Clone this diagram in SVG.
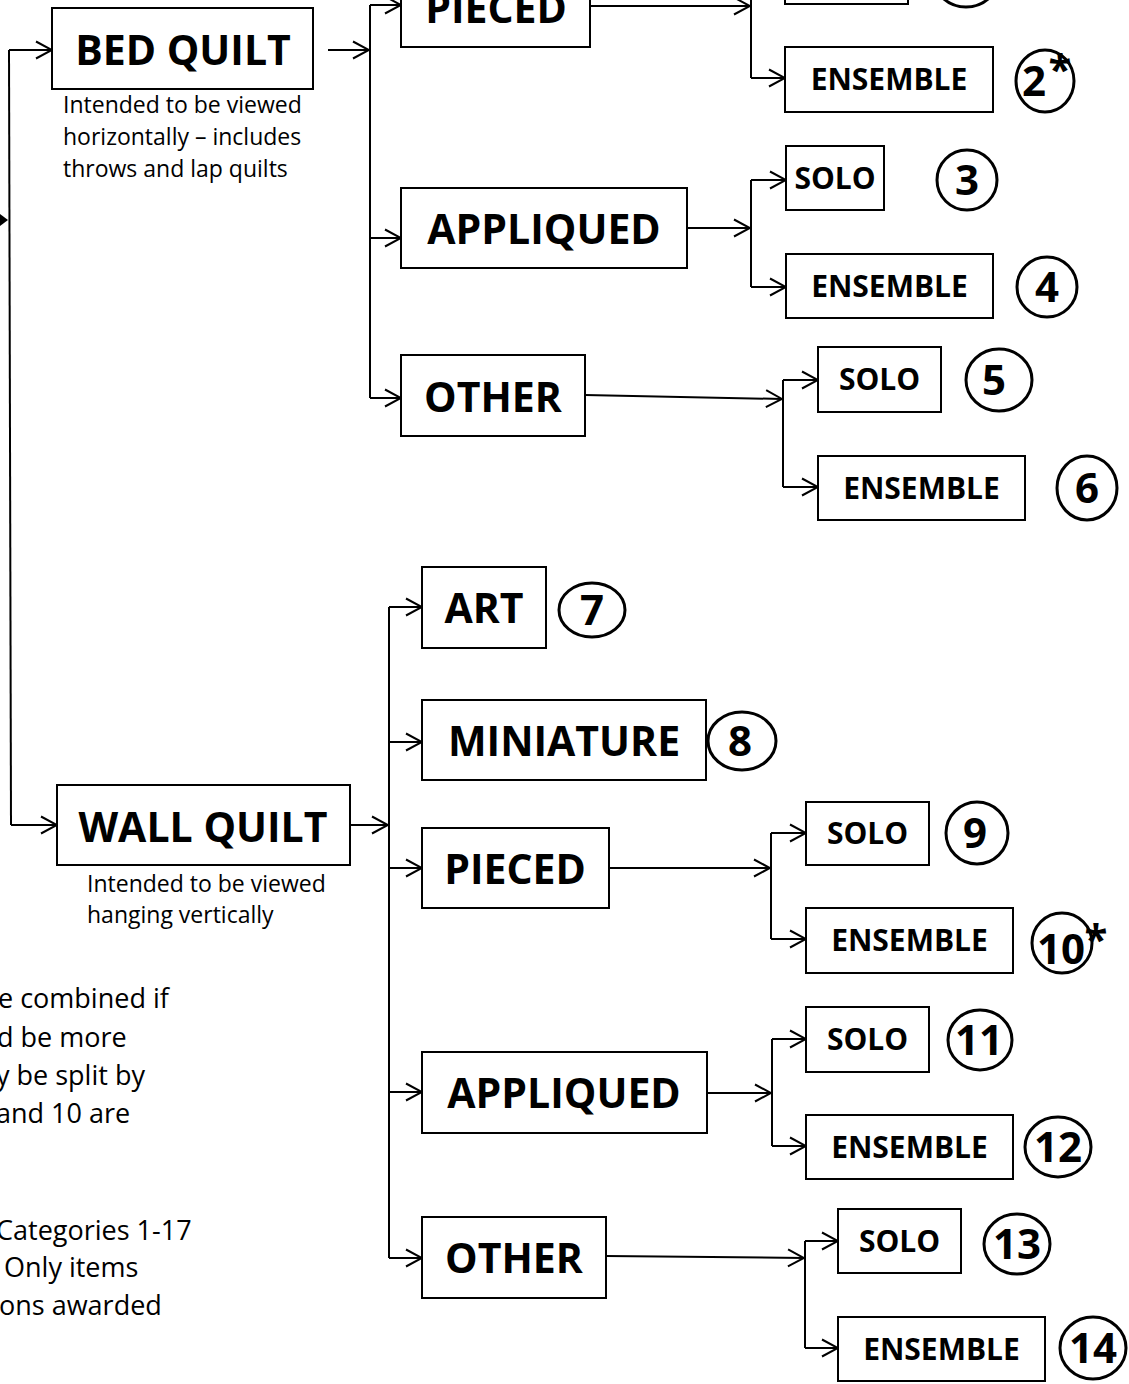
<svg xmlns="http://www.w3.org/2000/svg" width="1129" height="1384" viewBox="0 0 1129 1384">
<defs>
<marker id="ah" markerUnits="userSpaceOnUse" viewBox="0 0 18 20" refX="17" refY="10" markerWidth="18" markerHeight="20" orient="auto">
<path d="M1,1.5 L17,10 L1,18.5" fill="none" stroke="#000" stroke-width="2"/>
</marker>
</defs>
<style>
.box{fill:#fff;stroke:#000;stroke-width:2}
.circ{fill:none;stroke:#000;stroke-width:3}
.big{font-family:"Open Sans","Liberation Sans",sans-serif;font-weight:bold;font-size:41px;text-anchor:middle;fill:#000}
.small{font-family:"Open Sans","Liberation Sans",sans-serif;font-weight:bold;font-size:30px;text-anchor:middle;fill:#000}
.num{font-family:"Open Sans","Liberation Sans",sans-serif;font-weight:bold;font-size:42px;text-anchor:middle;fill:#000}
.note{font-family:"Open Sans","Liberation Sans",sans-serif;font-size:23px;fill:#000}
.side{font-family:"Open Sans","Liberation Sans",sans-serif;font-size:27px;fill:#000}
.ln{fill:none;stroke:#000;stroke-width:2}
.arr{fill:none;stroke:#000;stroke-width:2;marker-end:url(#ah)}
</style>
<rect width="1129" height="1384" fill="#fff"/>

<g id="connectors">
<polygon points="0,214 8,220 0,226" fill="#000"/>
<path class="ln" d="M9,50 L11,825"/>
<path class="arr" d="M9,50 L52,50"/>
<path class="arr" d="M11,825 L57,825"/>
<path class="arr" d="M328,50 L369,50"/>
<path class="ln" d="M370,5 L370,398"/>
<path class="arr" d="M370,5 L401,5"/>
<path class="arr" d="M370,238 L401,238"/>
<path class="arr" d="M370,398 L401,398"/>
<path class="arr" d="M590,6 L750,6"/>
<path class="ln" d="M751,-28 L751,78"/>
<path class="arr" d="M751,-28 L785,-28"/>
<path class="arr" d="M751,78 L785,78"/>
<path class="arr" d="M687,228 L750,228"/>
<path class="ln" d="M751,180 L751,287"/>
<path class="arr" d="M751,180 L786,180"/>
<path class="arr" d="M751,287 L786,287"/>
<path class="arr" d="M585,395 L782,399"/>
<path class="ln" d="M783,380 L783,487"/>
<path class="arr" d="M783,380 L818,380"/>
<path class="arr" d="M783,487 L818,487"/>
<path class="arr" d="M350,825 L388,825"/>
<path class="ln" d="M389,607 L389,1258"/>
<path class="arr" d="M389,607 L422,607"/>
<path class="arr" d="M389,742 L422,742"/>
<path class="arr" d="M389,868 L422,868"/>
<path class="arr" d="M389,1092 L422,1092"/>
<path class="arr" d="M389,1258 L422,1258"/>
<path class="arr" d="M609,868 L770,868"/>
<path class="ln" d="M771,833 L771,939"/>
<path class="arr" d="M771,833 L806,833"/>
<path class="arr" d="M771,939 L806,939"/>
<path class="arr" d="M707,1093 L771,1093"/>
<path class="ln" d="M772,1039 L772,1146"/>
<path class="arr" d="M772,1039 L806,1039"/>
<path class="arr" d="M772,1146 L806,1146"/>
<path class="arr" d="M606,1256 L804,1258"/>
<path class="ln" d="M805,1241 L805,1348"/>
<path class="arr" d="M805,1241 L838,1241"/>
<path class="arr" d="M805,1348 L838,1348"/>
</g>

<g id="bed-quilt">
<rect class="box" x="52" y="8" width="261" height="81"/>
<text class="big" x="183" y="65">BED QUILT</text>
<text class="note" x="63" y="113">Intended to be viewed</text>
<text class="note" x="63" y="145">horizontally – includes</text>
<text class="note" x="63" y="177">throws and lap quilts</text>
</g>
<g id="bed-pieced">
<rect class="box" x="401" y="-33" width="189" height="80"/>
<text class="big" x="496" y="23">PIECED</text>
</g>
<g id="cat1">
<rect class="box" x="785" y="-60" width="123" height="64"/>
<ellipse class="circ" cx="966" cy="-24" rx="33" ry="31"/>
</g>
<g id="cat2">
<rect class="box" x="785" y="47" width="208" height="65"/>
<text class="small" x="889" y="90">ENSEMBLE</text>
<ellipse class="circ" cx="1045" cy="81" rx="29" ry="31"/>
<text class="num" x="1034" y="96">2</text>
<text class="num" x="1060" y="84" font-size="32">*</text>
</g>
<g id="bed-appliqued">
<rect class="box" x="401" y="188" width="286" height="80"/>
<text class="big" x="544" y="244">APPLIQUED</text>
</g>
<g id="cat3">
<rect class="box" x="786" y="146" width="98" height="64"/>
<text class="small" x="835" y="189">SOLO</text>
<ellipse class="circ" cx="967" cy="180" rx="30" ry="30"/>
<text class="num" x="967" y="195">3</text>
</g>
<g id="cat4">
<rect class="box" x="786" y="254" width="207" height="64"/>
<text class="small" x="889.5" y="297">ENSEMBLE</text>
<ellipse class="circ" cx="1047" cy="287" rx="30" ry="30"/>
<text class="num" x="1047" y="302">4</text>
</g>
<g id="bed-other">
<rect class="box" x="401" y="355" width="184" height="81"/>
<text class="big" x="493" y="412">OTHER</text>
</g>
<g id="cat5">
<rect class="box" x="818" y="347" width="123" height="65"/>
<text class="small" x="879.5" y="390">SOLO</text>
<ellipse class="circ" cx="999" cy="380" rx="33" ry="31"/>
<text class="num" x="994" y="395">5</text>
</g>
<g id="cat6">
<rect class="box" x="818" y="456" width="207" height="64"/>
<text class="small" x="921.5" y="499">ENSEMBLE</text>
<ellipse class="circ" cx="1087" cy="488" rx="30" ry="32"/>
<text class="num" x="1087" y="503">6</text>
</g>

<g id="wall-quilt">
<rect class="box" x="57" y="785" width="293" height="80"/>
<text class="big" x="203" y="842">WALL QUILT</text>
<text class="note" x="87" y="892">Intended to be viewed</text>
<text class="note" x="87" y="923">hanging vertically</text>
</g>
<g id="cat7">
<rect class="box" x="422" y="567" width="124" height="81"/>
<text class="big" x="484" y="623">ART</text>
<ellipse class="circ" cx="592" cy="610" rx="33" ry="27"/>
<text class="num" x="592" y="625">7</text>
</g>
<g id="cat8">
<rect class="box" x="422" y="700" width="284" height="80"/>
<text class="big" x="564" y="756">MINIATURE</text>
<ellipse class="circ" cx="742" cy="741" rx="34" ry="29"/>
<text class="num" x="740" y="756">8</text>
</g>
<g id="wall-pieced">
<rect class="box" x="422" y="828" width="187" height="80"/>
<text class="big" x="515" y="884">PIECED</text>
</g>
<g id="cat9">
<rect class="box" x="806" y="802" width="123" height="63"/>
<text class="small" x="867.5" y="844">SOLO</text>
<ellipse class="circ" cx="977" cy="833" rx="31" ry="31"/>
<text class="num" x="975" y="848">9</text>
</g>
<g id="cat10">
<rect class="box" x="806" y="908" width="207" height="65"/>
<text class="small" x="909.5" y="951">ENSEMBLE</text>
<ellipse class="circ" cx="1062" cy="943" rx="30" ry="30"/>
<text class="num" x="1061" y="964">10</text>
<text class="num" x="1096" y="954" font-size="32">*</text>
</g>
<g id="wall-appliqued">
<rect class="box" x="422" y="1052" width="285" height="81"/>
<text class="big" x="564" y="1108">APPLIQUED</text>
</g>
<g id="cat11">
<rect class="box" x="806" y="1007" width="123" height="65"/>
<text class="small" x="867.5" y="1050">SOLO</text>
<ellipse class="circ" cx="980" cy="1040" rx="32" ry="30"/>
<text class="num" x="979" y="1055">11</text>
</g>
<g id="cat12">
<rect class="box" x="806" y="1115" width="207" height="64"/>
<text class="small" x="909.5" y="1158">ENSEMBLE</text>
<ellipse class="circ" cx="1058" cy="1147" rx="33" ry="30"/>
<text class="num" x="1058" y="1162">12</text>
</g>
<g id="wall-other">
<rect class="box" x="422" y="1217" width="184" height="81"/>
<text class="big" x="514" y="1273">OTHER</text>
</g>
<g id="cat13">
<rect class="box" x="838" y="1209" width="123" height="64"/>
<text class="small" x="899.5" y="1252">SOLO</text>
<ellipse class="circ" cx="1017" cy="1244" rx="33" ry="30"/>
<text class="num" x="1017" y="1259">13</text>
</g>
<g id="cat14">
<rect class="box" x="838" y="1317" width="207" height="64"/>
<text class="small" x="941.5" y="1360">ENSEMBLE</text>
<ellipse class="circ" cx="1093" cy="1348" rx="33" ry="31"/>
<text class="num" x="1093" y="1363">14</text>
</g>

<g id="side-notes">
<text class="side" x="-2" y="1008">e combined if</text>
<text class="side" x="-3" y="1047">d be more</text>
<text class="side" x="-4" y="1085">y be split by</text>
<text class="side" x="-4" y="1123">and 10  are</text>
<text class="side" x="-4" y="1240">Categories 1-17</text>
<text class="side" x="4" y="1277">Only items</text>
<text class="side" x="-1" y="1315">ons awarded</text>
</g>
</svg>
